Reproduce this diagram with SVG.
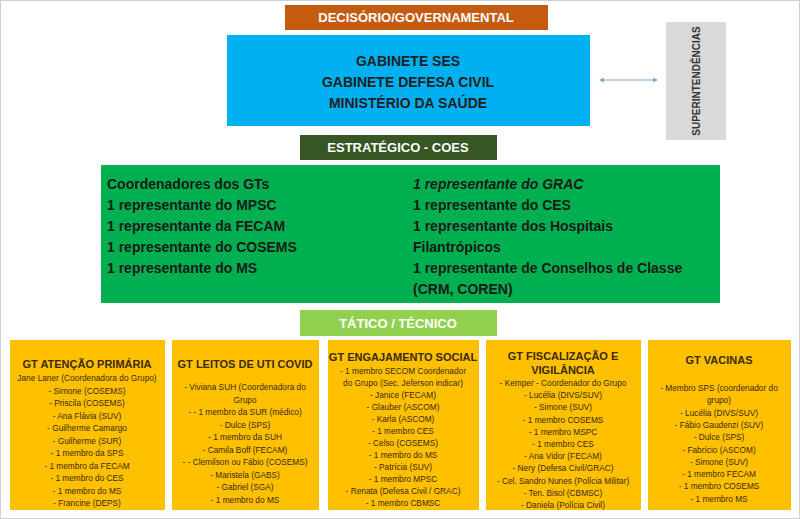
<svg xmlns="http://www.w3.org/2000/svg" width="800" height="519" viewBox="0 0 800 519">
<defs>
<style>
text{font-family:"Liberation Sans",Arial,sans-serif}
.hd{font-size:13px;font-weight:bold;fill:#fff;text-anchor:middle}
.bl{font-size:14px;font-weight:bold;fill:#1f1f1f;text-anchor:middle}
.gr{font-size:14px;font-weight:bold;fill:#1a1a1a}
.gt{font-size:11px;font-weight:bold;fill:#3a2a00;text-anchor:middle}
.it{font-size:8.3px;fill:#3a2a00;text-anchor:middle}
.gtbox{fill:#FFC000}
</style>
<marker id="ah" viewBox="0 0 6 6" refX="5" refY="3" markerWidth="5" markerHeight="5" orient="auto-start-reverse"><path d="M0,0L6,3L0,6z" fill="#7FA7D4"/></marker>
</defs>
<rect x="0.5" y="0.5" width="799" height="518" fill="#fff" stroke="#d0d0d0"/>
<g id="decisorio"><rect x="285" y="5" width="263" height="25" fill="#C55A11"/><text class="hd" x="416" y="22">DECISÓRIO/GOVERNAMENTAL</text></g>
<g id="gabinete"><rect x="227" y="35" width="363" height="91" fill="#00B0F0"/>
<text class="bl" x="408" y="66">GABINETE SES</text><text class="bl" x="408" y="87">GABINETE DEFESA CIVIL</text><text class="bl" x="408" y="108">MINISTÉRIO DA SAÚDE</text></g>
<g id="superintendencias"><rect x="666" y="22" width="60" height="118" fill="#D9D9D9"/><text transform="translate(700,81) rotate(-90)" style="font-size:10px;font-weight:bold;fill:#333;text-anchor:middle">SUPERINTENDÊNCIAS</text></g>
<g id="connectors"><line x1="600" y1="80" x2="657" y2="80" stroke="#7FA7D4" stroke-width="1" marker-start="url(#ah)" marker-end="url(#ah)"/></g>
<g id="estrategico"><rect x="300" y="135" width="197" height="25" fill="#375623"/><text class="hd" x="398" y="152">ESTRATÉGICO - COES</text></g>
<g id="coes"><rect x="101" y="165" width="619" height="138" fill="#00B050"/>
<text class="gr" x="107" y="189">Coordenadores dos GTs</text>
<text class="gr" x="107" y="210">1 representante do MPSC</text>
<text class="gr" x="107" y="231">1 representante da FECAM</text>
<text class="gr" x="107" y="252">1 representante do COSEMS</text>
<text class="gr" x="107" y="273">1 representante do MS</text>
<text class="gr" x="413" y="189" font-style="italic">1 representante do GRAC</text>
<text class="gr" x="413" y="210">1 representante do CES</text>
<text class="gr" x="413" y="231">1 representante dos Hospitais</text>
<text class="gr" x="413" y="252">Filantrópicos</text>
<text class="gr" x="413" y="273">1 representante de Conselhos de Classe</text>
<text class="gr" x="413" y="294">(CRM, COREN)</text></g>
<g id="tatico"><rect x="300" y="310" width="197" height="26" fill="#92D050"/><text class="hd" x="398" y="328">TÁTICO / TÉCNICO</text></g>
<g id="gt1"><rect class="gtbox" x="10" y="340" width="155" height="170"/>
<text class="gt" x="87" y="368">GT ATENÇÃO PRIMÁRIA</text>
<text class="it" x="87" y="381">Jane Laner (Coordenadora do Grupo)</text>
<text class="it" x="87" y="393.5">-   Simone (COSEMS)</text>
<text class="it" x="87" y="406">-   Priscila (COSEMS)</text>
<text class="it" x="87" y="418.5">-   Ana Flávia (SUV)</text>
<text class="it" x="87" y="431">- Guilherme Camargo</text>
<text class="it" x="87" y="443.5">- Guilherme (SUR)</text>
<text class="it" x="87" y="456">-   1 membro da SPS</text>
<text class="it" x="87" y="468.5">-   1 membro da FECAM</text>
<text class="it" x="87" y="481">- 1 membro do CES</text>
<text class="it" x="87" y="493.5">-   1 membro do MS</text>
<text class="it" x="87" y="506">-   Francine (DEPS)</text></g>
<g id="gt2"><rect class="gtbox" x="172" y="340" width="147" height="170"/>
<text class="gt" x="245" y="368">GT LEITOS DE UTI COVID</text>
<text class="it" x="245" y="390">-   Viviana SUH (Coordenadora do</text>
<text class="it" x="245" y="402.5">Grupo</text>
<text class="it" x="245" y="415">-  - 1 membro da SUR (médico)</text>
<text class="it" x="245" y="427.5">- Dulce (SPS)</text>
<text class="it" x="245" y="440">- 1 membro da SUH</text>
<text class="it" x="245" y="452.5">-   Camila Boff (FECAM)</text>
<text class="it" x="245" y="465">-  - Clemilson ou Fábio (COSEMS)</text>
<text class="it" x="245" y="477.5">-   Maristela (GABS)</text>
<text class="it" x="245" y="490">-   Gabriel (SGA)</text>
<text class="it" x="245" y="502.5">-   1 membro do MS</text></g>
<g id="gt3"><rect class="gtbox" x="328" y="340" width="151" height="170"/>
<text class="gt" x="403" y="361">GT ENGAJAMENTO SOCIAL</text>
<text class="it" x="403" y="374">-   1 membro SECOM  Coordenador</text>
<text class="it" x="403" y="386">do Grupo (Sec. Jeferson indicar)</text>
<text class="it" x="403" y="398">-   Janice (FECAM)</text>
<text class="it" x="403" y="410">-   Glauber (ASCOM)</text>
<text class="it" x="403" y="422">-   Karla (ASCOM)</text>
<text class="it" x="403" y="434">-   1 membro CES</text>
<text class="it" x="403" y="446">-   Celso (COSEMS)</text>
<text class="it" x="403" y="458">-   1 membro do MS</text>
<text class="it" x="403" y="470">-   Patrícia (SUV)</text>
<text class="it" x="403" y="482">-   1 membro MPSC</text>
<text class="it" x="403" y="494">-   Renata (Defesa Civil / GRAC)</text>
<text class="it" x="403" y="506">-   1 membro CBMSC</text></g>
<g id="gt4"><rect class="gtbox" x="486" y="340" width="155" height="170"/>
<text class="gt" x="563" y="360">GT FISCALIZAÇÃO E</text>
<text class="gt" x="563" y="374">VIGILÂNCIA</text>
<text class="it" x="563" y="386">-   Kemper - Coordenador do Grupo</text>
<text class="it" x="563" y="398.2">-   Lucélia (DIVS/SUV)</text>
<text class="it" x="563" y="410.4">-   Simone (SUV)</text>
<text class="it" x="563" y="422.6">-   1 membro COSEMS</text>
<text class="it" x="563" y="434.8">-   1 membro MSPC</text>
<text class="it" x="563" y="447">-   1 membro CES</text>
<text class="it" x="563" y="459.2">-   Ana Vidor (FECAM)</text>
<text class="it" x="563" y="471.4">-   Nery (Defesa Civil/GRAC)</text>
<text class="it" x="563" y="483.6">-   Cel. Sandro Nunes (Polícia Militar)</text>
<text class="it" x="563" y="495.8">-   Ten. Bisol (CBMSC)</text>
<text class="it" x="563" y="508">-   Daniela (Polícia Civil)</text></g>
<g id="gt5"><rect class="gtbox" x="648" y="340" width="143" height="170"/>
<text class="gt" x="719" y="364">GT VACINAS</text>
<text class="it" x="719" y="391">- Membro SPS (coordenador do</text>
<text class="it" x="719" y="403.3">grupo)</text>
<text class="it" x="719" y="415.6">- Lucélia (DIVS/SUV)</text>
<text class="it" x="719" y="427.9">- Fábio Gaudenzi (SUV)</text>
<text class="it" x="719" y="440.2">- Dulce (SPS)</text>
<text class="it" x="719" y="452.5">- Fabrício (ASCOM)</text>
<text class="it" x="719" y="464.8">- Simone (SUV)</text>
<text class="it" x="719" y="477.1">- 1 membro FECAM</text>
<text class="it" x="719" y="489.4">- 1 membro COSEMS</text>
<text class="it" x="719" y="501.7">- 1 membro MS</text></g>
</svg>
